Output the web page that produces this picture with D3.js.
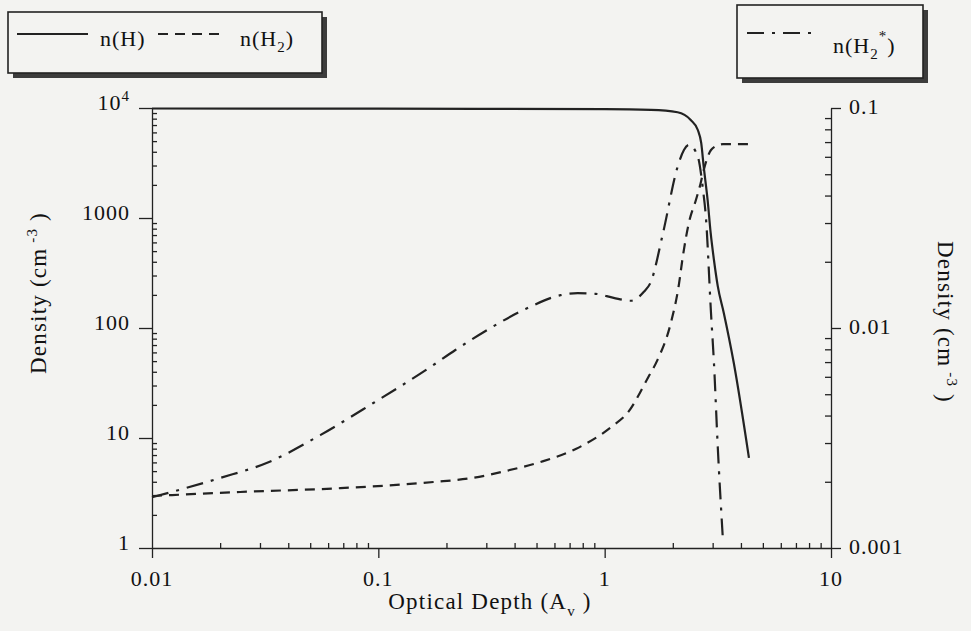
<!DOCTYPE html>
<meta charset="utf-8" />
<title>Density vs optical depth</title>
<style>
  body { margin: 0; background: #f3f3f1; }
  svg text { font-family: "Liberation Serif", "Times New Roman", serif; fill: #111; }
  .axis path, .axis line { stroke: #222; stroke-width: 1.3; fill: none; }
  .curve { fill: none; stroke: #222; stroke-width: 2.2; }
</style>
<body>
<script src="https://d3js.org/d3.v7.min.js"></script>
<script>
  // ---- values ----
  // n(H), left axis
  var avH = [0.01, 0.1, 1, 1.6, 2.1, 2.4, 2.58, 2.67, 2.74, 2.85, 2.94, 3.04, 3.16, 3.36, 3.72, 4.34];
  var nH = [9900, 9850, 9750, 9600, 9150, 7780, 6310, 4810, 2910, 1458, 731, 415, 240, 137, 48, 6.6];

  // n(H2), left axis
  var avH2 = [0.01, 0.0245, 0.068, 0.175, 0.26, 0.364, 0.52, 0.745, 1.07, 1.27, 1.56, 1.71,
              1.96, 2.12, 2.22, 2.36, 2.53, 2.65, 2.74, 2.95, 3.19, 3.33, 4.34];
  var nH2 = [2.97, 3.23, 3.5, 3.98, 4.33, 5.0, 6.05, 7.94, 12.6, 17.2, 35.9, 51,
             111, 236, 461, 920, 1458, 2040, 2730, 4150, 4600, 4700, 4700];

  // n(H2*), right axis
  var avH2s = [0.01, 0.02, 0.0329, 0.0554, 0.095, 0.17, 0.219, 0.313, 0.447, 0.639, 0.76, 0.912,
               1.096, 1.3, 1.49, 1.6, 1.81, 2.1, 2.24, 2.36, 2.58, 2.72, 2.8, 2.95, 3.04, 3.16, 3.33];
  var nH2s = [0.0017, 0.00208, 0.00246, 0.00326, 0.00456, 0.00665, 0.00794, 0.01, 0.0122, 0.0141, 0.0144, 0.0143,
              0.0137, 0.0133, 0.0146, 0.0162, 0.027, 0.054, 0.0644, 0.068, 0.06, 0.0424, 0.032, 0.0117, 0.00693, 0.00288, 0.00109];

  // ticks
  var xTicks = [0.01, 0.1, 1, 10];
  var xTickLabels = ["0.01", "0.1", "1", "10"];
  var yLeftTicks = [1, 10, 100, 1000, 10000];
  var yLeftTickLabels = ["1", "10", "100", "1000", "10^4"];
  var yRightTicks = [0.001, 0.01, 0.1];
  var yRightTickLabels = ["0.001", "0.01", "0.1"];

  var width = 971, height = 631;
  var plot = { left: 152, right: 831, top: 108, bottom: 548 };

  var x = d3.scaleLog().domain([0.01, 10]).range([plot.left, plot.right]);
  var yLeft = d3.scaleLog().domain([1, 1e4]).range([plot.bottom, plot.top]);
  var yRight = d3.scaleLog().domain([0.001, 0.1]).range([plot.bottom, plot.top]);

  // 2..9 within every decade of a log domain
  function minorTicks(domain) {
    var out = [];
    var p0 = Math.round(Math.log10(domain[0])), p1 = Math.round(Math.log10(domain[1]));
    for (var p = p0; p < p1; p++)
      for (var k = 2; k <= 9; k++) out.push(k * Math.pow(10, p));
    return out;
  }

  var svg = d3.select("body").append("svg")
    .attr("width", width)
    .attr("height", height);

  // bottom axis
  svg.append("g").attr("class", "axis")
    .attr("transform", "translate(0," + plot.bottom + ")")
    .call(d3.axisBottom(x).tickValues(xTicks).tickSize(10).tickSizeOuter(0).tickFormat(""));
  svg.append("g").attr("class", "axis")
    .attr("transform", "translate(0," + plot.bottom + ")")
    .call(d3.axisBottom(x).tickValues(minorTicks(x.domain())).tickSize(-5).tickFormat(""))
    .select(".domain").remove();

  // left axis
  svg.append("g").attr("class", "axis")
    .attr("transform", "translate(" + plot.left + ",0)")
    .call(d3.axisLeft(yLeft).tickValues(yLeftTicks).tickSize(13).tickSizeOuter(0).tickFormat(""));
  svg.append("g").attr("class", "axis")
    .attr("transform", "translate(" + plot.left + ",0)")
    .call(d3.axisLeft(yLeft).tickValues(minorTicks(yLeft.domain())).tickSize(-5).tickFormat(""))
    .select(".domain").remove();

  // right axis
  svg.append("g").attr("class", "axis")
    .attr("transform", "translate(" + plot.right + ",0)")
    .call(d3.axisRight(yRight).tickValues(yRightTicks).tickSize(10).tickSizeOuter(0).tickFormat(""));
  svg.append("g").attr("class", "axis")
    .attr("transform", "translate(" + plot.right + ",0)")
    .call(d3.axisRight(yRight).tickValues(minorTicks(yRight.domain())).tickSize(-6).tickFormat(""))
    .select(".domain").remove();

  // tick labels
  svg.append("g").selectAll("text")
    .data(xTicks)
    .join("text")
    .attr("x", function(d) { return x(d); })
    .attr("y", plot.bottom + 38)
    .attr("text-anchor", "middle")
    .attr("font-size", 22)
    .attr("letter-spacing", 1)
    .text(function(d, i) { return xTickLabels[i]; });

  var leftLab = svg.append("g").selectAll("text")
    .data(yLeftTicks)
    .join("text")
    .attr("x", plot.left - 22)
    .attr("y", function(d) { return yLeft(d) + 2; })
    .attr("text-anchor", "end")
    .attr("font-size", 22)
    .attr("letter-spacing", 1);
  leftLab.each(function(d, i) {
    var parts = yLeftTickLabels[i].split("^");
    var t = d3.select(this);
    t.append("tspan").text(parts[0]);
    if (parts[1]) t.append("tspan").attr("dy", -9).attr("font-size", 15).text(parts[1]);
  });

  svg.append("g").selectAll("text")
    .data(yRightTicks)
    .join("text")
    .attr("x", plot.right + 18)
    .attr("y", function(d) { return yRight(d) + 6; })
    .attr("font-size", 22)
    .attr("letter-spacing", 1)
    .text(function(d, i) { return yRightTickLabels[i]; });

  // axis titles
  var xt = svg.append("text")
    .attr("x", 490).attr("y", 609)
    .attr("text-anchor", "middle")
    .attr("font-size", 23)
    .attr("letter-spacing", 1.2);
  xt.append("tspan").text("Optical Depth (A");
  xt.append("tspan").attr("dy", 7).attr("font-size", 15).text("v");
  xt.append("tspan").attr("dy", -7).text(" )");

  function densityTitle(sel) {
    sel.append("tspan").text("Density (cm");
    sel.append("tspan").attr("dy", -9).attr("font-size", 15).text(" -3");
    sel.append("tspan").attr("dy", 9).text(" )");
  }
  svg.append("text")
    .attr("transform", "translate(46,293) rotate(-90)")
    .attr("text-anchor", "middle")
    .attr("font-size", 23)
    .attr("letter-spacing", 1.2)
    .call(densityTitle);
  svg.append("text")
    .attr("transform", "translate(938,322) rotate(90)")
    .attr("text-anchor", "middle")
    .attr("font-size", 23)
    .attr("letter-spacing", 1.2)
    .call(densityTitle);

  // curves
  function pts(xs, ys) { return xs.map(function(v, i) { return [v, ys[i]]; }); }
  var lineL = d3.line().x(function(d) { return x(d[0]); }).y(function(d) { return yLeft(d[1]); }).curve(d3.curveMonotoneX);
  var lineR = d3.line().x(function(d) { return x(d[0]); }).y(function(d) { return yRight(d[1]); }).curve(d3.curveMonotoneX);

  svg.append("path").attr("class", "curve").attr("d", lineL(pts(avH, nH)));
  svg.append("path").attr("class", "curve").attr("stroke-dasharray", "10,7").attr("d", lineL(pts(avH2, nH2)));
  svg.append("path").attr("class", "curve").attr("stroke-dasharray", "17,8,3,8").attr("d", lineR(pts(avH2s, nH2s)));

  // legend boxes with drop shadow
  function box(x0, y0, w, h) {
    svg.append("rect").attr("x", x0 + 5).attr("y", y0 + 5).attr("width", w).attr("height", h).attr("fill", "#3c3c3c");
    svg.append("rect").attr("x", x0).attr("y", y0).attr("width", w).attr("height", h)
      .attr("fill", "#f3f3f1").attr("stroke", "#222").attr("stroke-width", 1.6);
  }
  box(8, 12, 314, 61);
  box(737, 5, 186, 73);

  svg.append("line").attr("class", "curve").attr("x1", 17).attr("x2", 88).attr("y1", 34).attr("y2", 34);
  svg.append("line").attr("class", "curve").attr("stroke-dasharray", "10,7").attr("x1", 158).attr("x2", 222).attr("y1", 34).attr("y2", 34);
  svg.append("line").attr("class", "curve").attr("stroke-dasharray", "17,8,3,8").attr("x1", 747).attr("x2", 812).attr("y1", 33).attr("y2", 33);

  var l1 = svg.append("text").attr("x", 100).attr("y", 46).attr("font-size", 22).attr("letter-spacing", 1);
  l1.text("n(H)");
  var l2 = svg.append("text").attr("x", 240).attr("y", 46).attr("font-size", 22).attr("letter-spacing", 1);
  l2.append("tspan").text("n(H");
  l2.append("tspan").attr("dy", 6).attr("font-size", 15).text("2");
  l2.append("tspan").attr("dy", -6).text(")");
  var l3 = svg.append("text").attr("x", 833).attr("y", 53).attr("font-size", 22).attr("letter-spacing", 1);
  l3.append("tspan").text("n(H");
  l3.append("tspan").attr("dy", 6).attr("font-size", 15).text("2");
  l3.append("tspan").attr("dy", -18).attr("font-size", 15).text("*");
  l3.append("tspan").attr("dy", 12).text(")");
</script>
</body>
